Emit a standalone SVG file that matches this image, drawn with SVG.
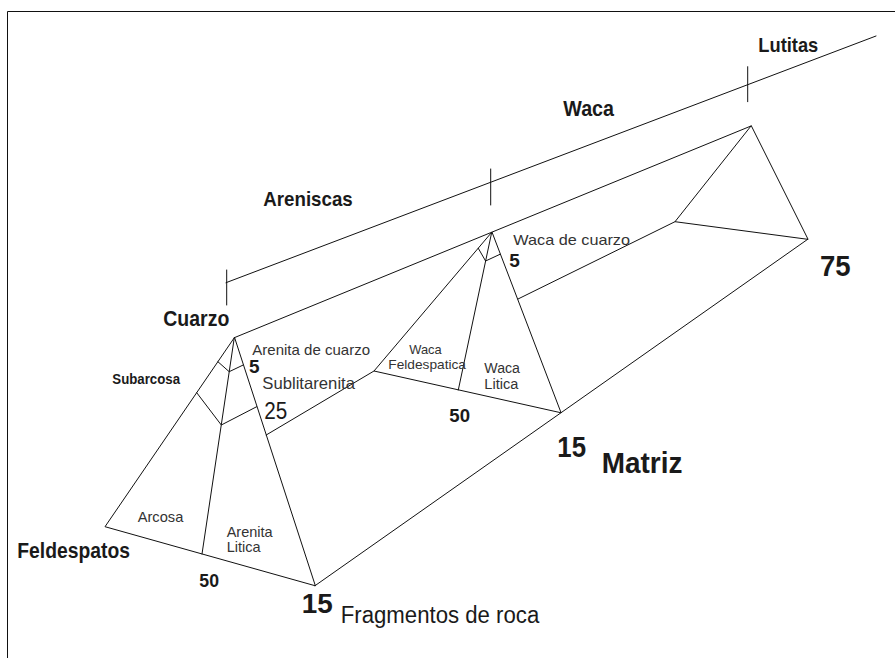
<svg xmlns="http://www.w3.org/2000/svg" width="895" height="658" viewBox="0 0 895 658">
<style>
.ln{stroke:#111;stroke-width:1;fill:none;stroke-linecap:round;stroke-linejoin:round}
.t{font-family:"Liberation Sans",Arial,sans-serif;fill:#1a1a1a}
.b{font-weight:bold}
.s{fill:#333}
</style>
<rect width="895" height="658" fill="#fff"/>
<path class="ln" d="M7.5,658 V11.5 H895" stroke-width="1.3"/>
<g id="scale">
<line class="ln" x1="226" y1="282.7" x2="876" y2="36"/>
<line class="ln" x1="226.7" y1="270" x2="226.7" y2="305"/>
<line class="ln" x1="490.7" y1="169" x2="490.7" y2="205"/>
<line class="ln" x1="747.7" y1="66.7" x2="747.7" y2="101.7"/>
</g>
<g id="connectors">
<line class="ln" x1="234.3" y1="337.7" x2="751" y2="126"/>
<line class="ln" x1="315" y1="585.7" x2="807.7" y2="239.3"/>
<line class="ln" x1="266.2" y1="435" x2="374" y2="371"/>
<line class="ln" x1="518" y1="299" x2="675" y2="221.7"/>
</g>
<g id="front-triangle">
<path class="ln" d="M234.3,337.7 L105,526.7 L315,585.7 Z"/>
<line class="ln" x1="234.3" y1="337.7" x2="202" y2="554"/>
<path class="ln" d="M217.9,361.7 L229.2,371.7 L243.2,365"/>
<path class="ln" d="M196.7,392.7 L221.3,425 L256.7,406.7"/>
</g>
<g id="middle-triangle">
<path class="ln" d="M491.7,232.3 L374,371 L560.7,412.7 Z"/>
<line class="ln" x1="491.7" y1="232.3" x2="458.3" y2="390"/>
<path class="ln" d="M478.3,248.3 L485.6,261 L500,254.3"/>
</g>
<g id="back-triangle">
<path class="ln" d="M751,126 L675,221.7 L807.7,239.3 Z"/>
</g>
<g id="labels">
<text class="t b" x="758.3" y="52" font-size="21" textLength="60" lengthAdjust="spacingAndGlyphs">Lutitas</text>
<text class="t b" x="563.3" y="115.7" font-size="22" textLength="50.7" lengthAdjust="spacingAndGlyphs">Waca</text>
<text class="t b" x="263.3" y="206" font-size="21" textLength="89.4" lengthAdjust="spacingAndGlyphs">Areniscas</text>
<text class="t b" x="163.3" y="325.7" font-size="22" textLength="66" lengthAdjust="spacingAndGlyphs">Cuarzo</text>
<text class="t b" x="112.3" y="384" font-size="14" textLength="67.7" lengthAdjust="spacingAndGlyphs">Subarcosa</text>
<text class="t s" x="252.3" y="355" font-size="15" textLength="117.7" lengthAdjust="spacingAndGlyphs">Arenita de cuarzo</text>
<text class="t b" x="249" y="373.3" font-size="19">5</text>
<text class="t s" x="262.3" y="389.3" font-size="16.5" textLength="92.7" lengthAdjust="spacingAndGlyphs">Sublitarenita</text>
<text class="t" x="264.3" y="419.3" font-size="23" textLength="23" lengthAdjust="spacingAndGlyphs">25</text>
<text class="t s" x="137.7" y="521.7" font-size="14.5" textLength="45.6" lengthAdjust="spacingAndGlyphs">Arcosa</text>
<text class="t s" x="226.7" y="536.7" font-size="14.5">Arenita</text>
<text class="t s" x="226.7" y="551.5" font-size="14.5">Litica</text>
<text class="t b" x="17.3" y="558.3" font-size="22" textLength="112.7" lengthAdjust="spacingAndGlyphs">Feldespatos</text>
<text class="t b" x="199.3" y="587.3" font-size="19" textLength="19.7" lengthAdjust="spacingAndGlyphs">50</text>
<text class="t b" x="301.7" y="613.3" font-size="28" textLength="31" lengthAdjust="spacingAndGlyphs">15</text>
<text class="t" x="340.7" y="622.7" font-size="23" textLength="198.6" lengthAdjust="spacingAndGlyphs">Fragmentos de roca</text>
<text class="t s" x="409.3" y="354" font-size="13" textLength="32.4" lengthAdjust="spacingAndGlyphs">Waca</text>
<text class="t s" x="388.3" y="368.7" font-size="13" textLength="77.7" lengthAdjust="spacingAndGlyphs">Feldespatica</text>
<text class="t s" x="484.3" y="372.5" font-size="14" textLength="35.7" lengthAdjust="spacingAndGlyphs">Waca</text>
<text class="t s" x="484.3" y="389" font-size="14" textLength="34" lengthAdjust="spacingAndGlyphs">Litica</text>
<text class="t b" x="509.3" y="266.7" font-size="19">5</text>
<text class="t s" x="513.3" y="245" font-size="15" textLength="116.7" lengthAdjust="spacingAndGlyphs">Waca de cuarzo</text>
<text class="t b" x="449.3" y="422.3" font-size="19" textLength="20.7" lengthAdjust="spacingAndGlyphs">50</text>
<text class="t b" x="557.3" y="456.7" font-size="30" textLength="28.7" lengthAdjust="spacingAndGlyphs">15</text>
<text class="t b" x="601.7" y="472.7" font-size="29" textLength="80.7" lengthAdjust="spacingAndGlyphs">Matriz</text>
<text class="t b" x="820" y="276" font-size="30" textLength="30.7" lengthAdjust="spacingAndGlyphs">75</text>
</g>
</svg>
